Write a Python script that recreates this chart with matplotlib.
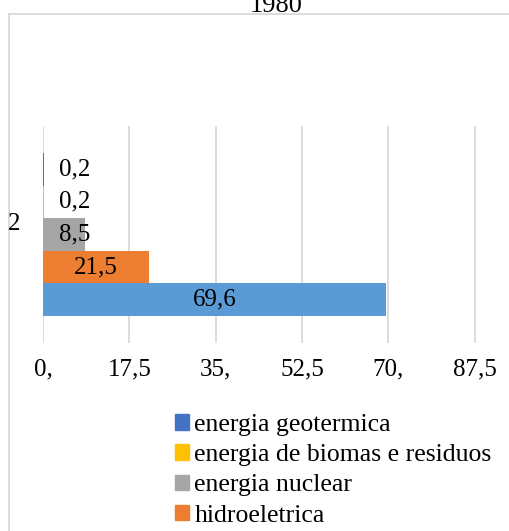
import matplotlib
matplotlib.use("Agg")
import matplotlib.pyplot as plt
from matplotlib.patches import Patch

plt.rcParams['font.family'] = ['Liberation Serif', 'DejaVu Serif']

title = "1980"
category = "2"
# series in drawing order, bottom bar first
series_values = [69.6, 21.5, 8.5, 0.2, 0.2]
series_colors = ['#5B9BD5', '#ED7D31', '#A5A5A5', '#FFC000', '#4472C4']
series_labels = ['', 'hidroeletrica', 'energia nuclear',
                 'energia de biomas e residuos', 'energia geotermica']
xticks = [0, 17.5, 35, 52.5, 70, 87.5]
xtick_labels = ['0,', '17,5', '35,', '52,5', '70,', '87,5']

W, H = 510, 531
fig = plt.figure(figsize=(W / 100, H / 100), dpi=100)

# chart frame: an empty axes larger than the image, only left/top edges show
fx, fy = 9.5 / W, 1 - 13.5 / H
frame = fig.add_axes([fx, -0.5, 2.0, fy + 0.5])
frame.set_xticks([])
frame.set_yticks([])
frame.patch.set_visible(False)
for side in ['right', 'bottom']:
    frame.spines[side].set_visible(False)
for side in ['left', 'top']:
    frame.spines[side].set_color('#D9D9D9')
    frame.spines[side].set_linewidth(1.3)

fig.text(276 / W, 1 - 12 / H, title, ha='center', va='baseline', fontsize=19)

ax = fig.add_axes([43 / W, 188 / H, 518 / W, 217 / H])
bh = 0.15
n = len(series_values)
for i, (v, c) in enumerate(zip(series_values, series_colors)):
    y = (i - (n - 1) / 2) * bh
    ax.barh(y, v, height=bh, color=c, zorder=2)
    ax.text(max(v / 2, 6.5), y, f"{v:.1f}".replace('.', ','),
            ha='center', va='center', fontsize=18, zorder=3)

ax.set_xlim(0, 105)
ax.set_ylim(-0.5, 0.5)
ax.set_xticks(xticks, xtick_labels, fontsize=18)
ax.set_yticks([0], [category], fontsize=18)
for lbl in ax.get_yticklabels():
    lbl.set_va('bottom')
ax.tick_params(length=0, pad=11)
ax.tick_params(axis='y', pad=16)
ax.grid(axis='x', color='#D9D9D9', linewidth=1.3, zorder=0)
for s in ax.spines.values():
    s.set_visible(False)

handles = [Patch(color=series_colors[i], label=series_labels[i]) for i in [4, 3, 2, 1]]
fig.legend(handles=handles, loc='upper left', bbox_to_anchor=(175 / W, 1 - 414 / H),
           frameon=False, fontsize=18.5, handlelength=0.55, handleheight=0.55,
           handletextpad=0.2, labelspacing=0.32, borderaxespad=0, borderpad=0)

fig.savefig('out.png', dpi=100)
